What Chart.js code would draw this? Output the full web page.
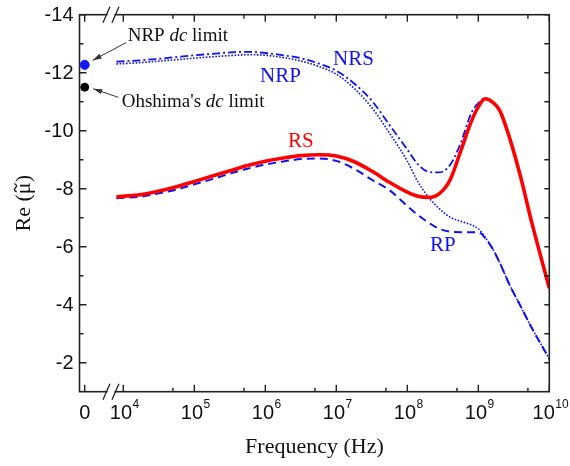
<!DOCTYPE html>
<html><head><meta charset="utf-8">
<script src="https://cdn.jsdelivr.net/npm/chart.js@4/dist/chart.umd.min.js"></script>
<style>html,body{margin:0;padding:0;background:#fff}</style>
</head><body>
<canvas id="c" width="570" height="466"></canvas>
<script>
// ---- data ----
const freqHz = [8e3,1.8e4,3.2e4,5.6e4,1e5,1.8e5,3.2e5,5.6e5,1e6,1.8e6,3.2e6,5.6e6,1e7,1.8e7,3.2e7,5.6e7,1e8,1.4e8,2e8,2.8e8,4e8,5.6e8,8e8,1e9,1.25e9,1.6e9,2e9,2.8e9,4e9,5.6e9,8e9,1e10];
const reRS  = [-7.72,-7.80,-7.92,-8.07,-8.25,-8.44,-8.62,-8.80,-8.95,-9.06,-9.14,-9.17,-9.13,-8.93,-8.60,-8.22,-7.88,-7.74,-7.70,-7.82,-8.30,-9.27,-10.33,-10.82,-11.10,-10.98,-10.70,-9.70,-8.35,-6.88,-5.45,-4.57];
const reRP  = [-7.67,-7.73,-7.84,-7.97,-8.15,-8.33,-8.52,-8.69,-8.83,-8.94,-9.02,-9.04,-8.96,-8.68,-8.30,-7.95,-7.40,-7.10,-6.83,-6.62,-6.52,-6.50,-6.50,-6.50,-6.30,-5.92,-5.45,-4.65,-3.92,-3.22,-2.55,-2.13];
const reNRP = [-12.30,-12.35,-12.40,-12.45,-12.50,-12.55,-12.59,-12.62,-12.60,-12.52,-12.40,-12.22,-11.95,-11.45,-10.78,-9.92,-8.95,-8.25,-7.70,-7.32,-7.02,-6.88,-6.75,-6.62,-6.32,-5.92,-5.45,-4.65,-3.92,-3.22,-2.55,-2.13];
const reNRS = [-12.38,-12.43,-12.48,-12.54,-12.60,-12.65,-12.70,-12.72,-12.68,-12.60,-12.50,-12.32,-12.07,-11.62,-11.02,-10.20,-9.35,-8.85,-8.58,-8.56,-8.82,-9.55,-10.62,-10.95,-11.12,-10.98,-10.70,-9.70,-8.35,-6.88,-5.45,-4.57];
const dcLabels = ["NRP dc limit", "Ohshima's dc limit"];
const dcValues = [-12.27, -11.5];
const dcFreq = 0;
const yTickValues = [-14,-12,-10,-8,-6,-4,-2];
const yMinorValues = [-13,-11,-9,-7,-5,-3];
const xTickExps = [4,5,6,7,8,9,10];
const xMinorHz = [5e4,5e5,5e6,5e7,5e8,5e9];
const seriesNames = ["RS","RP","NRP","NRS"];

// ---- layout (broken axis: f = 0 drawn left of the break) ----
const ZERO_AXIS_HZ = 2860;   // where f = 0 sits on the broken axis
const BREAK_HZ = 6700;       // where the axis break marks sit
const BLUE = '#1010f0', RED = '#ff0000';

const pts = v => freqHz.map((f,i)=>({x:f,y:v[i]}));

const deco = {
  id:'deco',
  afterDraw(chart){
    const {ctx, chartArea:a, scales:{x,y}} = chart;
    ctx.save();
    // frame
    ctx.strokeStyle='#222'; ctx.lineWidth=1.6;
    ctx.strokeRect(a.left, a.top, a.right-a.left, a.bottom-a.top);
    ctx.lineWidth=1.4;
    const vtick=(px,len)=>{ctx.beginPath();ctx.moveTo(px,a.bottom);ctx.lineTo(px,a.bottom-len);ctx.moveTo(px,a.top);ctx.lineTo(px,a.top+len);ctx.stroke();};
    const htick=(py,len,rlen)=>{ctx.beginPath();ctx.moveTo(a.left,py);ctx.lineTo(a.left+len,py);ctx.moveTo(a.right,py);ctx.lineTo(a.right-rlen,py);ctx.stroke();};
    xTickExps.forEach(e=>vtick(x.getPixelForValue(Math.pow(10,e)),7));
    vtick(x.getPixelForValue(ZERO_AXIS_HZ),7);
    xMinorHz.forEach(f=>vtick(x.getPixelForValue(f),4));
    yTickValues.forEach(v=>htick(y.getPixelForValue(v),7,5));
    yMinorValues.forEach(v=>htick(y.getPixelForValue(v),4,5));
    // axis breaks
    const bx = x.getPixelForValue(BREAK_HZ);
    [a.top,a.bottom].forEach(py=>{
      ctx.fillStyle='#fff'; ctx.fillRect(bx-3.5,py-1.5,7,3);
      ctx.strokeStyle='#222'; ctx.lineWidth=1.3;
      ctx.beginPath();
      ctx.moveTo(bx-8,py+8);ctx.lineTo(bx-1,py-8);
      ctx.moveTo(bx+1,py+8);ctx.lineTo(bx+8,py-8);
      ctx.stroke();
    });
    // y tick labels
    ctx.fillStyle='#111'; ctx.font='20px "Liberation Sans", Arial, sans-serif';
    ctx.textAlign='right'; ctx.textBaseline='alphabetic';
    yTickValues.forEach(v=>ctx.fillText(String(v), a.left-6, y.getPixelForValue(v)+6.5));
    // x tick labels
    ctx.textAlign='left';
    const base = 419;
    ctx.fillText(String(dcFreq), x.getPixelForValue(ZERO_AXIS_HZ)-5.5, base);
    xTickExps.forEach(e=>{
      const px = x.getPixelForValue(Math.pow(10,e));
      ctx.font='20px "Liberation Sans", Arial, sans-serif';
      const w1 = ctx.measureText('10').width;
      ctx.font='12px "Liberation Sans", Arial, sans-serif';
      const w2 = ctx.measureText(String(e)).width;
      const x0 = px - (w1+w2)/2 + 1;
      ctx.font='20px "Liberation Sans", Arial, sans-serif';
      ctx.fillText('10', x0, base);
      ctx.font='12px "Liberation Sans", Arial, sans-serif';
      ctx.fillText(String(e), x0+w1+0.5, base-11);
    });
    // axis titles
    const serif22='22px "Liberation Serif", "Times New Roman", serif';
    ctx.font=serif22;
    ctx.textAlign='center';
    ctx.fillText('Frequency (Hz)', (a.left+a.right)/2, 453);
    ctx.save();
    ctx.translate(23,(a.top+a.bottom)/2);
    ctx.rotate(-Math.PI/2);
    ctx.textAlign='left'; ctx.textBaseline='alphabetic';
    const t1='Re (', t2='\u03BC', t3=')';
    const w1=ctx.measureText(t1).width, w2=ctx.measureText(t2).width, w3=ctx.measureText(t3).width;
    let sx=-(w1+w2+w3)/2, by=7;
    ctx.fillText(t1,sx,by); ctx.fillText(t2,sx+w1,by); ctx.fillText(t3,sx+w1+w2,by);
    // tilde over mu
    const tx=sx+w1+w2/2+0.5, ty=by-14.5, tw=8.5;
    ctx.strokeStyle='#111'; ctx.lineWidth=1.3;
    ctx.beginPath();
    ctx.moveTo(tx-tw/2,ty+1.2);
    ctx.bezierCurveTo(tx-tw/4,ty-2.4,tx-tw/8,ty-1,tx,ty);
    ctx.bezierCurveTo(tx+tw/8,ty+1,tx+tw/4,ty+2.4,tx+tw/2,ty-1.2);
    ctx.stroke();
    ctx.restore();
    // series labels
    ctx.font='21px "Liberation Serif", "Times New Roman", serif';
    ctx.textAlign='left'; ctx.textBaseline='alphabetic';
    ctx.fillStyle=BLUE;
    ctx.fillText(seriesNames[3],333,65);
    ctx.fillText(seriesNames[2],260,82);
    ctx.fillText(seriesNames[1],430,250.5);
    ctx.fillStyle=RED;
    ctx.fillText(seriesNames[0],288,147);
    // dc annotations
    const ann=(parts,x0,yb)=>{
      let cx=x0;
      parts.forEach(([t,it])=>{
        ctx.font=(it?'italic ':'')+'19px "Liberation Serif", "Times New Roman", serif';
        ctx.fillStyle='#111';
        ctx.fillText(t,cx,yb); cx+=ctx.measureText(t).width;
      });
    };
    const splitDc=s=>{const i=s.indexOf('dc');return [[s.slice(0,i),false],['dc',true],[s.slice(i+2),false]];};
    ann(splitDc(dcLabels[0]),127.7,40.7);
    ann(splitDc(dcLabels[1]),121.7,106.7);
    const arrow=(x1,y1,x2,y2)=>{
      ctx.strokeStyle='#333'; ctx.fillStyle='#333'; ctx.lineWidth=1;
      ctx.beginPath();ctx.moveTo(x1,y1);ctx.lineTo(x2,y2);ctx.stroke();
      const ang=Math.atan2(y2-y1,x2-x1), L=9, W=2.6;
      ctx.beginPath();
      ctx.moveTo(x2,y2);
      ctx.lineTo(x2-L*Math.cos(ang)+W*Math.sin(ang), y2-L*Math.sin(ang)-W*Math.cos(ang));
      ctx.lineTo(x2-L*Math.cos(ang)-W*Math.sin(ang), y2-L*Math.sin(ang)+W*Math.cos(ang));
      ctx.closePath();ctx.fill();
    };
    const zx = x.getPixelForValue(ZERO_AXIS_HZ);
    arrow(126,42.7,zx+8,y.getPixelForValue(dcValues[0])-4.5);
    arrow(118.3,97.3,zx+8.5,y.getPixelForValue(dcValues[1])+1.5);
    ctx.restore();
  }
};

new Chart(document.getElementById('c'),{
  type:'line',
  data:{datasets:[
    {label:'RS', data:pts(reRS), borderColor:RED, borderWidth:3.6, pointRadius:0, cubicInterpolationMode:'monotone', fill:false},
    {label:'RP', data:pts(reRP), borderColor:BLUE, borderWidth:2, borderDash:[8,5], pointRadius:0, cubicInterpolationMode:'monotone', fill:false},
    {label:'NRP', data:pts(reNRP), borderColor:BLUE, borderWidth:1.6, borderDash:[1.6,1.6], pointRadius:0, cubicInterpolationMode:'monotone', fill:false},
    {label:'NRS', data:pts(reNRS), borderColor:BLUE, borderWidth:1.8, borderDash:[8,3,2,3], pointRadius:0, cubicInterpolationMode:'monotone', fill:false},
    {label:'NRP dc', type:'scatter', data:[{x:ZERO_AXIS_HZ,y:dcValues[0]}], backgroundColor:'#1515ff', borderColor:'#1515ff', pointRadius:4.5, showLine:false},
    {label:'Ohshima dc', type:'scatter', data:[{x:ZERO_AXIS_HZ,y:dcValues[1]}], backgroundColor:'#000', borderColor:'#000', pointRadius:4, showLine:false}
  ]},
  options:{
    responsive:false, animation:false, devicePixelRatio:1,
    layout:{padding:{left:79.5,right:20.7,top:14.7,bottom:74.3}},
    plugins:{legend:{display:false},tooltip:{enabled:false}},
    scales:{
      x:{type:'logarithmic', min:2415, max:1e10, display:false},
      y:{type:'linear', min:-14, max:-1, reverse:true, display:false}
    }
  },
  plugins:[deco]
});
</script>
</body></html>
